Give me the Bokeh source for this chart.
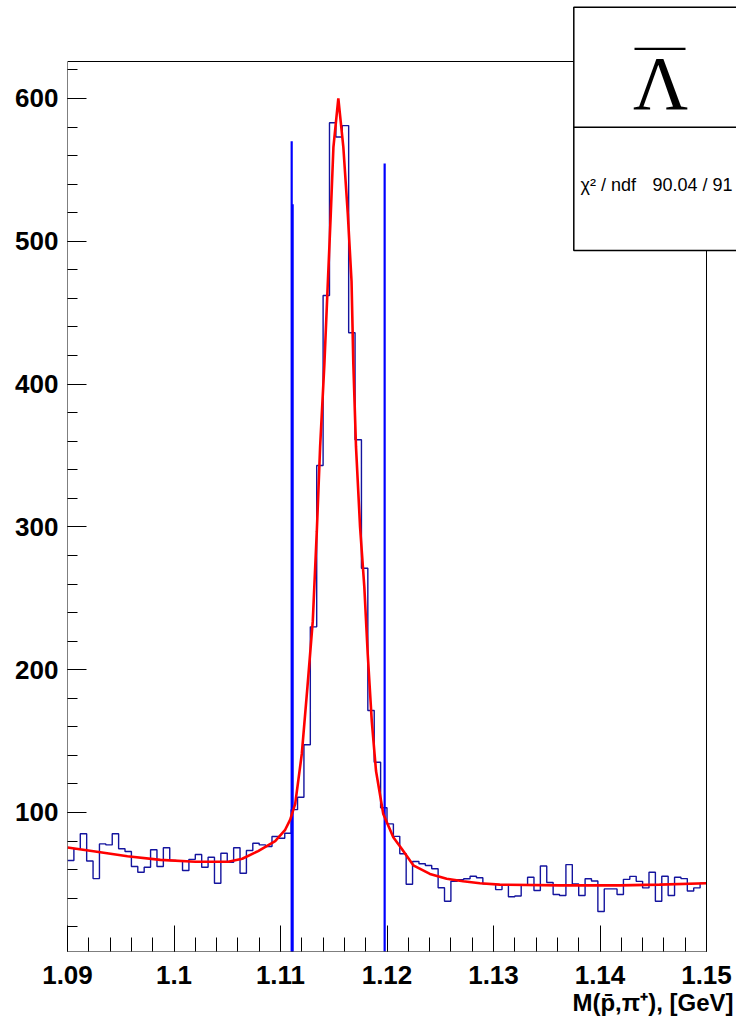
from bokeh.plotting import figure
from bokeh.models import FixedTicker, Range1d, Label, BoxAnnotation, Title
from bokeh.embed import file_html
from bokeh.resources import INLINE

# ---------------- data ----------------
x_min, x_max = 1.09, 1.15
y_min, y_max = 2.66, 625.9
n_bins = 100

hist_values = [
    66.4, 74.6, 85.1, 66.0, 53.7, 78.0, 77.3, 85.1, 74.6, 72.7,
    62.2, 58.2, 61.7, 73.9, 62.2, 75.3, 66.4, 66.0, 59.4, 67.2,
    70.6, 61.7, 68.7, 50.5, 71.5, 65.2, 75.3, 57.5, 73.4, 78.5,
    77.3, 76.2, 83.2, 82.0, 85.5, 102.0, 110.7, 147.4, 230.0, 343.0,
    462.0, 583.0, 573.0, 581.0, 436.0, 361.0, 271.0, 171.4, 135.2, 103.3,
    92.0, 83.3, 71.1, 49.8, 65.7, 64.1, 62.9, 60.6, 47.3, 37.9,
    51.9, 52.9, 53.6, 55.4, 54.3, 50.0, 50.0, 46.0, 49.0, 41.0,
    41.5, 49.0, 54.7, 45.4, 62.5, 51.0, 42.6, 41.9, 63.5, 50.0,
    41.9, 53.6, 52.0, 30.7, 46.5, 46.5, 42.6, 53.2, 55.3, 51.8,
    47.2, 58.2, 37.9, 55.4, 41.9, 54.7, 53.7, 45.0, 47.2, 50.5,
]

fit_x = [1.0900, 1.09244, 1.09563, 1.09872, 1.1020, 1.10509, 1.10641, 1.1079,
         1.1095, 1.11044, 1.11091, 1.11138, 1.11200, 1.11253, 1.11303, 1.11341,
         1.11372, 1.11412, 1.11445, 1.11472, 1.11497, 1.11543, 1.11590, 1.11632,
         1.11667, 1.11684, 1.11709, 1.11747, 1.11787, 1.11819, 1.11857, 1.11897,
         1.11965, 1.12059, 1.12138, 1.12247, 1.12403, 1.12560, 1.12715, 1.12872,
         1.13059, 1.13622, 1.14184, 1.14559, 1.1500]
fit_y = [75.5, 72.9, 69.4, 66.8, 65.5, 65.5, 67.6, 73.0,
         80.0, 87.9, 95.0, 106.0, 141.0, 188.0, 234.0, 297.0,
         356.0, 414.0, 472.0, 519.0, 566.0, 600.0, 566.0, 519.0,
         472.0, 414.0, 356.0, 300.0, 258.0, 211.0, 164.0, 129.0,
         99.0, 82.7, 74.6, 63.0, 57.0, 53.6, 51.9, 50.5,
         49.5, 49.0, 49.0, 49.5, 50.5]

cut_x = [1.11105, 1.11114, 1.11978]
cut_top = [570.0, 526.0, 554.5]

x_ticks = [1.09, 1.10, 1.11, 1.12, 1.13, 1.14, 1.15]
x_tick_labels = ["1.09", "1.1", "1.11", "1.12", "1.13", "1.14", "1.15"]
y_ticks = [100, 200, 300, 400, 500, 600]
y_tick_labels = ["100", "200", "300", "400", "500", "600"]

stats_title = "Λ"
stats_label = "χ² / ndf"
stats_value = "90.04 / 91"
x_title = "M(p̄,π⁺), [GeV]"

# ---------------- layout geometry (pixels) ----------------
W, H = 736, 1026
FL, FR, FT, FB = 67, 706, 61, 951     # drawn (ROOT) frame
CT = 5                                # bokeh frame reaches up to here / right canvas edge
xpp = (x_max - x_min) / (FR - FL)
ypp = (y_max - y_min) / (FB - FT)
xr_end = x_max + (W - FR) * xpp
yr_end = y_max + (FT - CT) * ypp

p = figure(width=W, height=H, x_range=Range1d(x_min, xr_end), y_range=Range1d(y_min, yr_end),
           output_backend="svg", toolbar_location=None,
           min_border_left=FL, min_border_right=0, min_border_top=CT, min_border_bottom=H - FB)
p.title.visible = False
p.grid.visible = False
p.outline_line_color = None
p.background_fill_color = "white"
p.border_fill_color = "white"

bw = (x_max - x_min) / n_bins
edges = [x_min + i * bw for i in range(n_bins + 1)]
sx, sy = [], []
for i, v in enumerate(hist_values):
    sx += [edges[i], edges[i + 1]]
    sy += [v, v]
p.line(sx, sy, line_color="#14149e", line_width=1.4)

p.segment(x0=cut_x, y0=[0, 0, 0], x1=cut_x, y1=cut_top, line_color="#0000ff", line_width=2.2)

p.line(fit_x, fit_y, line_color="#ff0000", line_width=2.6)

x_minor = [round(x_min + 0.002 * i, 4) for i in range(31)]
y_minor = list(range(20, 626, 20))

xa = p.xaxis[0]
xa.ticker = FixedTicker(ticks=x_ticks, minor_ticks=x_minor)
xa.major_label_overrides = dict(zip(x_ticks, x_tick_labels))
ya = p.yaxis[0]
ya.ticker = FixedTicker(ticks=y_ticks, minor_ticks=y_minor)
ya.major_label_overrides = dict(zip(y_ticks, y_tick_labels))
for ax in (xa, ya):
    ax.major_tick_out = 0
    ax.minor_tick_out = 0
    ax.axis_line_color = None
    ax.major_tick_line_color = "black"
    ax.minor_tick_line_color = "black"
    ax.major_label_text_font = "Liberation Sans"
    ax.major_label_text_font_style = "bold"
    ax.major_label_text_font_size = "26px"
    ax.major_label_text_color = "black"
xa.major_tick_in = 26
xa.minor_tick_in = 14
xa.major_label_standoff = 14
ya.major_tick_in = 19
ya.minor_tick_in = 10
ya.major_label_standoff = 9

# drawn frame
p.add_layout(BoxAnnotation(left=x_min, right=x_max, bottom=y_min, top=y_max,
                           fill_alpha=0, line_color="black", line_alpha=1.0, line_width=1))

U = dict(left_units="canvas", right_units="canvas", top_units="canvas", bottom_units="canvas")
# stats box
p.add_layout(BoxAnnotation(left=573.3, right=W + 40, top=6.7, bottom=250, **U,
                           fill_color="white", fill_alpha=1.0, line_color="black", line_alpha=1.0,
                           line_width=1.5))
p.add_layout(BoxAnnotation(left=573.3, right=W + 40, top=126, bottom=127.5, **U,
                           fill_color="black", fill_alpha=1.0, line_alpha=0))
p.add_layout(BoxAnnotation(left=634, right=685, top=47.3, bottom=49.5, **U,
                           fill_color="black", fill_alpha=1.0, line_alpha=0))
p.add_layout(Label(x=660, y=82, x_units="canvas", y_units="canvas", text=stats_title,
                   text_font="Liberation Serif", text_font_size="76px", text_align="center",
                   text_baseline="middle", text_color="black"))
p.add_layout(Label(x=580, y=184, x_units="canvas", y_units="canvas", text=stats_label,
                   text_font="Liberation Sans", text_font_size="18px", text_align="left",
                   text_baseline="middle", text_color="black"))
p.add_layout(Label(x=652, y=184, x_units="canvas", y_units="canvas", text=stats_value,
                   text_font="Liberation Sans", text_font_size="18px", text_align="left",
                   text_baseline="middle", text_color="black"))

p.add_layout(Title(text=x_title, align="right", text_font="Liberation Sans", text_font_style="bold",
                   text_font_size="24px", text_color="black", standoff=0, offset=3), "below")

open("out.html", "w").write(file_html(p, INLINE))
